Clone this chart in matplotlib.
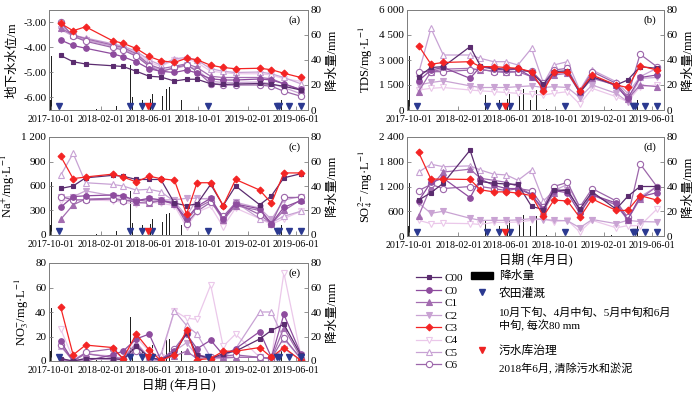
import matplotlib
matplotlib.use('Agg')
from matplotlib import pyplot as plt
import matplotlib.dates as mdates
import matplotlib.transforms as mtransforms
from matplotlib.ticker import FuncFormatter
from matplotlib.patches import Rectangle
import numpy as np

plt.rcParams['font.family'] = ['Liberation Serif', 'Noto Sans CJK SC']
plt.rcParams['mathtext.fontset'] = 'stix'
plt.rcParams['axes.unicode_minus'] = False

# sampling dates
sample_dates = np.array(['2017-10-24', '2017-11-24', '2017-12-25', '2018-03-02', '2018-03-28',
                         '2018-04-30', '2018-06-01', '2018-06-30', '2018-08-03', '2018-09-02',
                         '2018-09-28', '2018-11-01', '2018-12-02', '2019-01-02', '2019-03-03',
                         '2019-04-01', '2019-05-02', '2019-06-13'], dtype='datetime64[D]')

series_names = ['C00', 'C0', 'C1', 'C2', 'C3', 'C4', 'C5', 'C6']

# (a) groundwater level, m
gw_level = {
    'C00': [-4.32, -4.57, -4.66, -4.73, -4.76, -4.95, -5.15, -5.18, -5.34, -5.27, -5.27, -5.45, -5.48, -5.46, -5.44, -5.47, -5.55, -5.70],
    'C0':  [-3.70, -3.92, -4.03, -4.25, -4.37, -4.57, -4.85, -4.95, -5.00, -4.90, -5.02, -5.25, -5.30, -5.30, -5.26, -5.30, -5.45, -5.68],
    'C1':  [-3.22, -3.50, -3.65, -3.90, -4.00, -4.25, -4.68, -4.85, -4.75, -4.65, -4.80, -5.15, -5.20, -5.20, -5.20, -5.25, -5.45, -5.70],
    'C2':  [-3.27, -3.55, -3.70, -3.95, -4.05, -4.30, -4.72, -4.90, -4.85, -4.72, -4.88, -5.35, -5.40, -5.40, -5.38, -5.45, -5.60, -5.85],
    'C3':  [-3.04, -3.33, -3.17, -3.73, -3.83, -4.04, -4.36, -4.53, -4.60, -4.43, -4.49, -4.71, -4.80, -4.85, -4.83, -4.89, -5.03, -5.20],
    'C4':  [-3.15, -3.55, -3.70, -3.90, -4.00, -4.20, -4.60, -4.75, -4.50, -4.45, -4.60, -4.95, -5.00, -5.05, -5.05, -5.10, -5.25, -5.35],
    'C5':  [-3.10, -3.50, -3.62, -3.85, -3.95, -4.15, -4.50, -4.70, -4.45, -4.40, -4.50, -4.85, -4.95, -5.00, -4.98, -5.05, -5.20, -5.45],
    'C6':  [-3.00, -3.55, -3.75, -4.00, -4.10, -4.35, -4.75, -4.98, -4.80, -4.70, -4.95, -5.45, -5.50, -5.50, -5.50, -5.55, -5.75, -5.95],
}

# (b) TDS, mg/L
tds = {
    'C00': [2000, 2550, 2600, 3800, 2650, 2500, 2450, 2500, 2250, 1550, 2300, 2350, 1050, 2000, 1500, 1800, 2600, 2500],
    'C0':  [1750, 2400, 2550, 1900, 2600, 2450, 2400, 2450, 2000, 1400, 2200, 2300, 1050, 2000, 1450, 700, 1950, 2100],
    'C1':  [1100, 2300, 2450, 2500, 2400, 2350, 2300, 2300, 2000, 1400, 2100, 2200, 1050, 1900, 1500, 650, 1500, 1400],
    'C2':  [1500, 1650, 1750, 1450, 1350, 1350, 1350, 1400, 1450, 1350, 1400, 1350, 750, 1500, 1000, 500, 1900, 1950],
    'C3':  [3860, 2750, 2850, 2900, 2600, 2600, 2550, 2500, 2300, 1150, 2250, 2250, 1150, 2100, 1500, 1350, 2650, 2400],
    'C4':  [1200, 1300, 1350, 1200, 1150, 1100, 1050, 1000, 950, 900, 1000, 1100, 350, 1300, 800, 500, 1400, 1500],
    'C5':  [2200, 4900, 3300, 3300, 3100, 2900, 2900, 2700, 3700, 1600, 2700, 2900, 1200, 2400, 1700, 1000, 2000, 2500],
    'C6':  [2300, 2300, 2300, 2400, 2450, 2300, 2250, 2300, 2350, 1600, 2400, 2500, 1100, 2300, 1600, 800, 3350, 2600],
}

# (c) Na+, mg/L
na = {
    'C00': [570, 600, 700, 730, 720, 680, 680, 680, 390, 360, 380, 620, 360, 600, 370, 480, 700, 750],
    'C0':  [340, 470, 480, 490, 480, 420, 450, 430, 380, 200, 350, 450, 200, 380, 320, 140, 340, 420],
    'C1':  [190, 370, 440, 450, 430, 400, 390, 420, 380, 180, 330, 420, 180, 360, 300, 140, 300, 430],
    'C2':  [460, 470, 540, 480, 460, 420, 440, 430, 430, 450, 450, 440, 200, 400, 330, 190, 430, 470],
    'C3':  [965, 690, 710, 745, 710, 650, 720, 690, 670, 255, 640, 640, 360, 680, 550, 390, 760, 760],
    'C4':  [420, 430, 430, 420, 400, 380, 400, 390, 360, 100, 280, 350, 100, 330, 200, 130, 200, 290],
    'C5':  [730, 1000, 640, 620, 600, 550, 560, 530, 410, 230, 440, 450, 210, 400, 200, 150, 230, 290],
    'C6':  [470, 430, 430, 440, 420, 430, 410, 420, 400, 140, 290, 400, 230, 390, 250, 140, 460, 460],
}

# (d) SO4 2-, mg/L
so4 = {
    'C00': [870, 1050, 1280, 2080, 1320, 1280, 1260, 1250, 720, 640, 1120, 1100, 650, 1070, 650, 960, 1200, 1200],
    'C0':  [850, 1300, 1400, 930, 1380, 1230, 1150, 1150, 1000, 650, 1100, 1050, 550, 1000, 800, 400, 950, 1050],
    'C1':  [480, 1200, 1550, 1620, 1400, 1350, 1300, 1200, 1000, 600, 1050, 1150, 600, 1000, 750, 400, 900, 1200],
    'C2':  [800, 550, 600, 430, 380, 380, 380, 390, 420, 400, 380, 370, 200, 400, 300, 380, 350, 340],
    'C3':  [2030, 1380, 1380, 1370, 1120, 1070, 1070, 1040, 980, 480, 870, 850, 450, 900, 620, 620, 980, 870],
    'C4':  [380, 300, 310, 300, 280, 330, 330, 340, 380, 420, 350, 380, 100, 380, 200, 250, 250, 650],
    'C5':  [1550, 1740, 1680, 1700, 1600, 1500, 1480, 1350, 1600, 850, 1100, 1250, 700, 1000, 750, 400, 950, 1200],
    'C6':  [1100, 1250, 1150, 1200, 1200, 1150, 1100, 1150, 1100, 700, 1200, 1300, 700, 1150, 850, 450, 1750, 1200],
}

# (e) NO3-, mg/L
no3 = {
    'C00': [2, 0, 2, 2, 1, 12, 3, 1, 6, 23, 5, 2, 6, 8, 18, 25, 30, 5],
    'C0':  [16, 0, 0, 5, 8, 18, 22, 1, 8, 22, 10, 17, 5, 10, 24, 3, 38, 6],
    'C1':  [1, 0, 6, 3, 2, 14, 2, 1, 4, 8, 2, 3, 3, 3, 3, 2, 27, 3],
    'C2':  [0, 0, 2, 1, 1, 10, 1, 0, 8, 15, 4, 2, 2, 3, 3, 2, 10, 1],
    'C3':  [44, 5, 13, 11, 2, 22, 9, 0.5, 5, 25, 1, 2, 8, 8, 11, 3, 11, 0.5],
    'C4':  [26, 2, 6, 4, 2, 19, 8, 3, 41, 35, 34, 62, 12, 22, 3, 2, 72, 5],
    'C5':  [12, 0, 6, 3, 2, 15, 3, 5, 41, 29, 22, 3, 3, 10, 40, 40, 18, 2],
    'C6':  [13, 0, 7, 10, 2, 8, 3, 1, 10, 23, 5, 3, 4, 5, 3, 2, 19, 2],
}

# daily precipitation, mm
rain_dates = np.array(['2017-09-29', '2017-10-01', '2017-10-02', '2017-10-03', '2017-10-15',
                       '2018-01-21', '2018-03-12', '2018-04-10', '2018-04-16', '2018-04-21',
                       '2018-05-09', '2018-05-15', '2018-06-04', '2018-06-09', '2018-07-04',
                       '2018-07-08', '2018-07-13', '2018-07-14', '2018-07-18', '2018-07-22',
                       '2018-07-31', '2018-08-04', '2018-08-16', '2018-08-20', '2018-09-10',
                       '2019-02-19', '2019-04-25', '2019-04-26'], dtype='datetime64[D]')
rain_mm = [8, 43, 27, 12, 11,
           1, 3, 12, 36, 10,
           21, 8, 9, 13, 11,
           24, 65, 17, 17, 18,
           8, 16, 16, 8, 1,
           1, 18, 8]

irrigation_dates = np.array(['2017-10-20', '2018-04-14', '2018-05-13', '2018-06-09', '2018-10-26',
                             '2019-04-14', '2019-04-20', '2019-05-15', '2019-06-13'], dtype='datetime64[D]')
cleanup_dates = np.array(['2018-05-28'], dtype='datetime64[D]')

styles = {
    'C00': dict(color='#5b2c6f', marker='s', mfc='#5b2c6f', ms=3.5),
    'C0':  dict(color='#8e4c9e', marker='o', mfc='#8e4c9e', ms=4),
    'C1':  dict(color='#a36cb0', marker='^', mfc='#a36cb0', ms=4),
    'C2':  dict(color='#c9a3d3', marker='v', mfc='#c9a3d3', ms=4),
    'C3':  dict(color='#f42424', marker='D', mfc='#f42424', ms=3.5),
    'C4':  dict(color='#ebc8ea', marker='v', mfc='white', ms=4.5),
    'C5':  dict(color='#c8a2d4', marker='^', mfc='white', ms=4.5),
    'C6':  dict(color='#9c66aa', marker='o', mfc='white', ms=4.5),
}
draw_order = ['C4', 'C2', 'C5', 'C1', 'C6', 'C0', 'C00', 'C3']

BLUE = '#2b3990'
RED = '#ee2222'
GRAY = '#808080'
FS = 8


def thousands(v, pos):
    return f'{int(v):,}'.replace(',', ' ')


def draw_panel(ax, values, ylim, yticks, fmt, ylabel, letter, xlabel=None):
    ax2 = ax.twinx()
    ax2.bar(rain_dates, rain_mm, width=1.0, color='#222222', linewidth=0)
    ax2.set_ylim(0, 80)
    ax2.set_yticks([0, 20, 40, 60, 80])
    ax2.set_ylabel('降水量/mm', fontsize=9, labelpad=3)
    ax.set_zorder(ax2.get_zorder() + 1)
    ax.patch.set_visible(False)

    handles = {}
    for name in draw_order:
        st = styles[name]
        ln, = ax.plot(sample_dates, values[name], color=st['color'], lw=0.9,
                      marker=st['marker'], ms=st['ms'], mfc=st['mfc'],
                      mec=st['color'], mew=0.8, label=name)
        handles[name] = ln

    trans = mtransforms.blended_transform_factory(ax.transData, ax2.transData)
    ax.plot(irrigation_dates, [3] * len(irrigation_dates), 'v', color=BLUE, ms=5,
            transform=trans, clip_on=False, zorder=6)
    ax.plot(cleanup_dates, [3] * len(cleanup_dates), 'v', color=RED, ms=5,
            transform=trans, clip_on=False, zorder=6)

    ax.set_xlim(np.datetime64('2017-09-25'), np.datetime64('2019-07-01'))
    ax.set_ylim(*ylim)
    ax.set_yticks(yticks)
    ax.yaxis.set_major_formatter(FuncFormatter(fmt))
    ax.set_xticks(np.array(['2017-10-01', '2018-02-01', '2018-06-01', '2018-10-01',
                            '2019-02-01', '2019-06-01'], dtype='datetime64[D]'))
    ax.xaxis.set_major_formatter(mdates.DateFormatter('%Y-%m-%d'))
    ax.set_ylabel(ylabel, fontsize=9, labelpad=3)
    if xlabel:
        ax.set_xlabel(xlabel, fontsize=9, labelpad=2)
    ax.text(0.97, 0.9, letter, transform=ax.transAxes, ha='right', va='center', fontsize=FS)

    for a in (ax, ax2):
        a.tick_params(direction='in', length=3, width=0.6, color=GRAY, labelsize=FS, pad=2)
        for sp in a.spines.values():
            sp.set_color(GRAY)
            sp.set_linewidth(0.7)
    ax.tick_params(axis='x', labelsize=7.2, pad=3.5)
    return handles


fig = plt.figure(figsize=(7, 3.95), dpi=100)
W, H = 700, 395


def px_axes(l, t, r, b):
    return fig.add_axes([l / W, 1 - b / H, (r - l) / W, (b - t) / H])


ax_a = px_axes(49, 10, 308, 110)
ax_b = px_axes(407, 10, 664, 110)
ax_c = px_axes(49, 137, 308, 235)
ax_d = px_axes(407, 137, 664, 236)
ax_e = px_axes(49, 263, 308, 361)

h = draw_panel(ax_a, gw_level, (-6.5, -2.5), [-6, -5, -4, -3], lambda v, p: f'{v:.2f}',
               '地下水水位/m', '(a)')
draw_panel(ax_b, tds, (0, 6000), [0, 1500, 3000, 4500, 6000], thousands,
           'TDS/mg·L$^{-1}$', '(b)')
draw_panel(ax_c, na, (0, 1200), [0, 300, 600, 900, 1200], thousands,
           'Na$^{+}$/mg·L$^{-1}$', '(c)')
draw_panel(ax_d, so4, (0, 2400), [0, 600, 1200, 1800, 2400], thousands,
           'SO$_4^{2-}$/mg·L$^{-1}$', '(d)', xlabel='日期 (年月日)')
draw_panel(ax_e, no3, (0, 80), [0, 20, 40, 60, 80], thousands,
           'NO$_3^{-}$/mg·L$^{-1}$', '(e)', xlabel='日期 (年月日)')

# legend: series
fig.legend([h[n] for n in series_names], series_names, loc='upper left',
           bbox_to_anchor=(412 / W, 1 - 269 / H), frameon=False, fontsize=FS,
           handlelength=2.2, handletextpad=0.3, labelspacing=0.24, borderaxespad=0)

# legend: events
lg = fig.add_axes([0, 0, 1, 1])
lg.set_xlim(0, W)
lg.set_ylim(H, 0)
lg.axis('off')
lg.patch.set_visible(False)
lg.add_patch(Rectangle((471, 272), 22, 7, color='black'))
lg.text(499, 276, '降水量', fontsize=8.5, va='center')
lg.plot([482], [292], 'v', color=BLUE, ms=5)
lg.text(499, 294, '农田灌溉', fontsize=8.5, va='center')
lg.text(499, 313, '10月下旬、4月中旬、5月中旬和6月', fontsize=8, va='center')
lg.text(499, 326, '中旬, 每次80 mm', fontsize=8, va='center')
lg.plot([482], [350], 'v', color=RED, ms=5)
lg.text(499, 351, '污水库治理', fontsize=8.5, va='center')
lg.text(499, 369, '2018年6月, 清除污水和淤泥', fontsize=8, va='center')

fig.savefig('out.png', dpi=100)
